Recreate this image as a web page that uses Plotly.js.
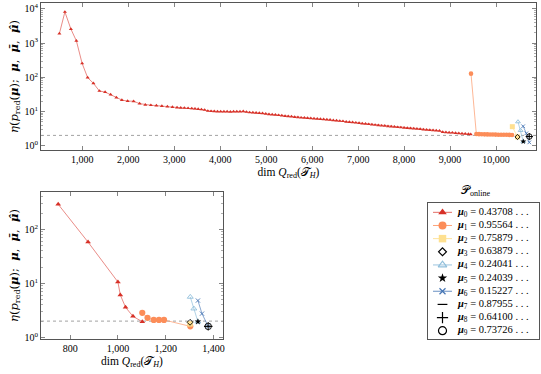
<!DOCTYPE html>
<html>
<head>
<meta charset="utf-8">
<script src="https://cdn.plot.ly/plotly-3.0.1.min.js"></script>
<style>
  html, body { margin: 0; padding: 0; background: #fff; }
  #chart { width: 541px; height: 374px; }
</style>
</head>
<body>
<div id="chart"></div>
<script>
const tolerance = 2;

// ---------- top panel: full greedy run ----------
const topMu0X = [
  500, 620, 750, 870, 995, 1115, 1240, 1370, 1495, 1615,
  1740, 1860, 1985, 2115, 2245, 2370, 2490, 2610, 2730, 2850,
  2960, 3060, 3140, 3220, 3300, 3380, 3450, 3520, 3590, 3660,
  3730, 3800, 3870, 3940, 4010, 4080, 4150, 4220, 4290, 4360,
  4430, 4500, 4570, 4640, 4710, 4780, 4850, 4920, 4990, 5060,
  5130, 5200, 5270, 5340, 5410, 5480, 5550, 5620, 5690, 5760,
  5830, 5900, 5970, 6040, 6110, 6180, 6250, 6320, 6390, 6460,
  6530, 6600, 6670, 6740, 6810, 6880, 6950, 7020, 7090, 7160,
  7230, 7300, 7370, 7440, 7510, 7580, 7650, 7720, 7790, 7860,
  7930, 8000, 8070, 8140, 8210, 8280, 8350, 8420, 8490, 8560,
  8630, 8700, 8770, 8840, 8910, 8980, 9050, 9120, 9190, 9260,
  9330, 9400, 9450,
];
const topMu0Y = [
  1900, 8200, 2600, 1170, 255, 98, 67, 40, 37, 31.5,
  25.5, 21.7, 20.2, 20, 17, 15.8, 15.3, 14.9, 14.4, 13.9,
  13.4, 13.0, 12.8, 12.7, 12.5, 12.3, 12.1, 11.8, 11.5, 11.1,
  10.4, 10.2, 10.1, 10.0, 10.0, 9.9, 9.9, 9.8, 9.9, 9.9,
  10.0, 10.1, 9.7, 9.4, 9.3, 9.1, 9.0, 8.8, 8.6, 8.3,
  8.1, 8.0, 7.8, 7.6, 7.4, 7.2, 7.1, 6.9, 6.8, 6.6,
  6.5, 6.4, 6.3, 6.2, 6.1, 6.0, 5.9, 5.8, 5.7, 5.5,
  5.4, 5.3, 5.2, 5.0, 4.9, 4.8, 4.7, 4.6, 4.45, 4.35,
  4.25, 4.15, 4.05, 3.95, 3.85, 3.8, 3.7, 3.62, 3.55, 3.48,
  3.42, 3.35, 3.28, 3.22, 3.15, 3.1, 3.05, 2.98, 2.93, 2.88,
  2.83, 2.78, 2.74, 2.5, 2.47, 2.43, 2.4, 2.35, 2.31, 2.27,
  2.22, 2.18, 2.15,
];
const topMu1X = [9456, 9572, 9630, 9690, 9750, 9810, 9870, 9930, 9990, 10050, 10110, 10170, 10230, 10290, 10350];
const topMu1Y = [128, 2.2, 2.18, 2.17, 2.15, 2.14, 2.13, 2.12, 2.11, 2.1, 2.1, 2.09, 2.08, 2.07, 2.06];
const topMu2X = [10355, 10468];
const topMu2Y = [3.6, 1.8];
const topMu3X = [10468];
const topMu3Y = [1.8];
const topMu4X = [10478, 10535, 10594];
const topMu4Y = [5.0, 2.8, 1.32];
const topMu5X = [10594];
const topMu5Y = [1.32];
const topMu6X = [10590, 10660, 10724];
const topMu6Y = [3.7, 2.3, 1.25];
const topMu789X = [10724];
const topMu789Y = [1.85];

// ---------- bottom panel: online phase ----------
const botMu0X = [750, 875, 1000, 1010, 1032, 1063, 1102];
const botMu0Y = [290, 58, 10.6, 6.1, 3.6, 2.45, 1.95];
const botMu1X = [1102, 1124, 1150, 1172, 1193, 1303];
const botMu1Y = [2.85, 2.3, 2.1, 2.1, 2.1, 1.6];
const botMu2X = [1302];
const botMu2Y = [1.78];
const botMu3X = [1302];
const botMu3Y = [1.9];
const botMu4X = [1303, 1318, 1335];
const botMu4Y = [5.6, 3.4, 1.95];
const botMu5X = [1335];
const botMu5Y = [1.95];
const botMu6X = [1335, 1352, 1378];
const botMu6Y = [4.8, 2.75, 1.6];
const botMu789X = [1378];
const botMu789Y = [1.6];

const muValues = ["0.43708", "0.95564", "0.75879", "0.63879", "0.24041",
                  "0.24039", "0.15227", "0.87955", "0.64100", "0.73726"];

const topXTicks = [1000, 2000, 3000, 4000, 5000, 6000, 7000, 8000, 9000, 10000];
const botXTicks = [800, 1000, 1200, 1400];
const topYTicks = [1, 10, 100, 1000, 10000];
const botYTicks = [1, 10, 100];

// one style per parameter mu_0 .. mu_9; sizes: top panel, bottom panel, legend
const STYLES = [
  { color: "#d73027", line: "rgba(215,48,39,0.7)", symbol: "triangle-up", filled: true, sz: [3.6, 5, 7.5] },
  { color: "#fc8d59", line: "rgba(252,141,89,0.8)", symbol: "circle", filled: true, sz: [4.6, 6.2, 8] },
  { color: "#fee090", line: "rgba(254,224,144,0.9)", symbol: "square", filled: true, sz: [5, 5.5, 7.5] },
  { color: "#000", line: null, symbol: "diamond-open", filled: false, sz: [4, 4.5, 6] },
  { color: "#91bfdb", line: "rgba(145,191,219,0.9)", symbol: "triangle-up-open", filled: false, sz: [4.2, 5.2, 7.5] },
  { color: "#000", line: null, symbol: "star", filled: true, sz: [4.5, 5, 7] },
  { color: "#4575b4", line: "rgba(69,117,180,0.8)", symbol: "x-thin-open", filled: false, sz: [3.6, 4.2, 6] },
  { color: "#000", line: null, symbol: "line-ew-open", filled: false, sz: [5, 6, 7] },
  { color: "#000", line: null, symbol: "cross-thin-open", filled: false, sz: [5, 6, 8] },
  { color: "#000", line: null, symbol: "circle-open", filled: false, sz: [5.5, 6.5, 8] },
];

const FONT = "'Liberation Serif', 'DejaVu Serif', serif";
const W = 541, H = 374;
const TOP_X_RANGE = [100, 10870];
const BOT_X_RANGE = [678, 1440];

function series(x, y, idx, xa, ya, panel) {
  const s = STYLES[idx];
  return {
    x, y, xaxis: xa, yaxis: ya, type: "scatter",
    mode: s.line ? "lines+markers" : "markers",
    line: { color: s.line || s.color, width: 0.8 },
    marker: {
      symbol: s.symbol, size: s.sz[panel], color: s.color,
      line: { color: s.color, width: s.filled ? 0 : 0.9 },
    },
    showlegend: false, hoverinfo: "skip",
  };
}

function toleranceLine(range, xa, ya) {
  return {
    x: range, y: [tolerance, tolerance], xaxis: xa, yaxis: ya,
    type: "scatter", mode: "lines",
    line: { color: "#8a8a8a", width: 0.8, dash: "dot" },
    showlegend: false, hoverinfo: "skip",
  };
}

const traces = [
  toleranceLine(TOP_X_RANGE, "x", "y"),
  toleranceLine(BOT_X_RANGE, "x2", "y2"),
  series(topMu0X, topMu0Y, 0, "x", "y", 0),
  series(topMu1X, topMu1Y, 1, "x", "y", 0),
  series(topMu2X, topMu2Y, 2, "x", "y", 0),
  series(topMu3X, topMu3Y, 3, "x", "y", 0),
  series(topMu4X, topMu4Y, 4, "x", "y", 0),
  series(topMu5X, topMu5Y, 5, "x", "y", 0),
  series(topMu6X, topMu6Y, 6, "x", "y", 0),
  series(topMu789X, topMu789Y, 7, "x", "y", 0),
  series(topMu789X, topMu789Y, 8, "x", "y", 0),
  series(topMu789X, topMu789Y, 9, "x", "y", 0),
  series(botMu0X, botMu0Y, 0, "x2", "y2", 1),
  series(botMu1X, botMu1Y, 1, "x2", "y2", 1),
  series(botMu2X, botMu2Y, 2, "x2", "y2", 1),
  series(botMu3X, botMu3Y, 3, "x2", "y2", 1),
  series(botMu4X, botMu4Y, 4, "x2", "y2", 1),
  series(botMu5X, botMu5Y, 5, "x2", "y2", 1),
  series(botMu6X, botMu6Y, 6, "x2", "y2", 1),
  series(botMu789X, botMu789Y, 7, "x2", "y2", 1),
  series(botMu789X, botMu789Y, 8, "x2", "y2", 1),
  series(botMu789X, botMu789Y, 9, "x2", "y2", 1),
];

// hand-built legend on its own blank axes (plotly's legend rows are too tall)
const LEG = { lineFrom: 5, mark: 14.5, lineTo: 24, text: 27 };
const annotations = [];
muValues.forEach((v, i) => {
  const s = STYLES[i];
  if (s.line) {
    traces.push({
      x: [LEG.lineFrom, LEG.lineTo], y: [i, i], xaxis: "x3", yaxis: "y3",
      type: "scatter", mode: "lines", line: { color: s.line, width: 1 },
      showlegend: false, hoverinfo: "skip",
    });
  }
  traces.push({
    x: [LEG.mark], y: [i], xaxis: "x3", yaxis: "y3", type: "scatter", mode: "markers",
    marker: { symbol: s.symbol, size: s.sz[2], color: s.color, line: { color: s.color, width: s.filled ? 0 : 1.2 } },
    showlegend: false, hoverinfo: "skip",
  });
  annotations.push({
    xref: "x3", yref: "y3", x: LEG.text, y: i, xanchor: "left", yanchor: "middle",
    text: `<b><i>μ</i></b><sub>${i}</sub> = ${v} . . .`,
    showarrow: false, font: { family: FONT, size: 10.5, color: "#000" },
  });
});
annotations.push({
  xref: "paper", yref: "paper", x: 476 / W, y: 1 - 191 / H, xanchor: "center", yanchor: "middle",
  text: "𝒫<sub>online</sub>", showarrow: false, font: { family: FONT, size: 11.5, color: "#000" },
});

const NB = "\u00a0";
const yTitle = `<i>η</i>(<i>p</i><sub>red</sub>(<b><i>μ</i></b>);${NB}${NB}<b><i>μ</i></b>,${NB}${NB}<b><i>μ̄</i></b>,${NB}${NB}<b><i>μ̂</i></b>)`;
const xTitle = "dim <i>Q</i><sub>red</sub>(𝒯<sub><i>H</i></sub>)";

const minorLog = [];
for (let d = 0; d < 5; d++) for (let k = 2; k < 10; k++) minorLog.push(k * Math.pow(10, d));

function frame(extra) {
  return Object.assign({
    showline: true, mirror: "ticks", linecolor: "#555", linewidth: 1,
    ticks: "inside", ticklen: 4, tickcolor: "#666", tickwidth: 0.8,
    showgrid: false, zeroline: false, fixedrange: true,
    tickfont: { family: FONT, size: 10, color: "#000" },
  }, extra);
}

function powTicks(vals) {
  return vals.map((v) => `10<sup>${Math.round(Math.log10(v))}</sup>`);
}

const titleFont = { family: FONT, size: 11.5, color: "#000" };
const yTitleFont = { family: "'DejaVu Serif', serif", size: 11.5, color: "#000" };

const layout = {
  width: W, height: H,
  margin: { l: 0, r: 0, t: 0, b: 0 },
  paper_bgcolor: "#fff", plot_bgcolor: "#fff",
  font: { family: FONT, color: "#000" },
  showlegend: false,
  xaxis: frame({
    domain: [41 / W, 536 / W], anchor: "y", range: TOP_X_RANGE,
    tickmode: "array", tickvals: topXTicks, tickformat: ",d",
    title: { text: xTitle, font: titleFont, standoff: 3 },
  }),
  yaxis: frame({
    domain: [1 - 150 / H, 1 - 3 / H], anchor: "x", type: "log", range: [-0.126, 4.175],
    tickmode: "array", tickvals: topYTicks, ticktext: powTicks(topYTicks),
    minor: { tickmode: "array", tickvals: minorLog, ticks: "inside", ticklen: 2, tickcolor: "#999" },
    title: { text: yTitle, font: yTitleFont, standoff: 3 },
  }),
  xaxis2: frame({
    domain: [41 / W, 223 / W], anchor: "y2", range: BOT_X_RANGE,
    tickmode: "array", tickvals: botXTicks, tickformat: ",d",
    title: { text: xTitle, font: titleFont, standoff: 3 },
  }),
  yaxis2: frame({
    domain: [1 - 339 / H, 1 - 192 / H], anchor: "x2", type: "log", range: [-0.03, 2.69],
    tickmode: "array", tickvals: botYTicks, ticktext: powTicks(botYTicks),
    minor: { tickmode: "array", tickvals: minorLog, ticks: "inside", ticklen: 2, tickcolor: "#999" },
    title: { text: yTitle, font: yTitleFont, standoff: 3 },
  }),
  xaxis3: {
    domain: [428 / W, 539 / W], anchor: "y3", range: [0, 111],
    showline: true, mirror: true, linecolor: "#555", linewidth: 1,
    showticklabels: false, ticks: "", showgrid: false, zeroline: false, fixedrange: true,
  },
  yaxis3: {
    domain: [1 - 339 / H, 1 - 203 / H], anchor: "x3", range: [9.63, -0.71],
    showline: true, mirror: true, linecolor: "#555", linewidth: 1,
    showticklabels: false, ticks: "", showgrid: false, zeroline: false, fixedrange: true,
  },
  annotations,
};

Plotly.newPlot("chart", traces, layout, { displayModeBar: false, staticPlot: true });
</script>
</body>
</html>
